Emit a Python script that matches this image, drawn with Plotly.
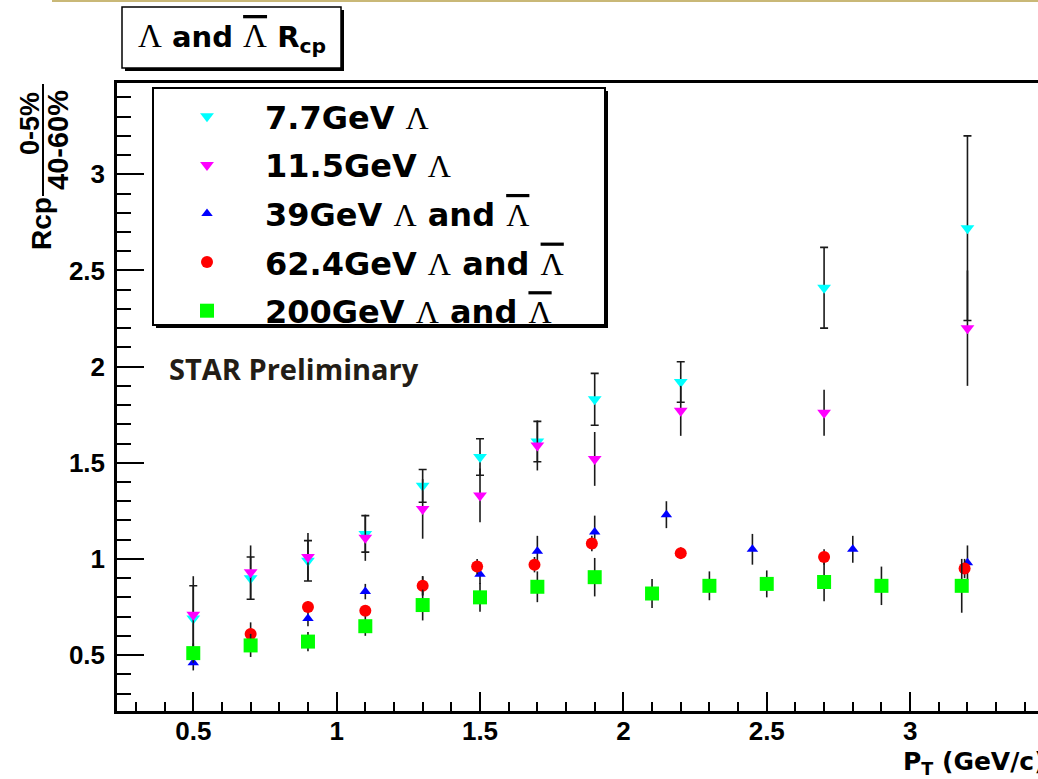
import plotly.graph_objects as go

# ---- data: Lambda (and anti-Lambda) R_cp (0-5% / 40-60%) vs pT ----
pt_7p7 = [0.5, 0.7, 0.9, 1.1, 1.3, 1.5, 1.7, 1.9, 2.2, 2.7, 3.2]
rcp_7p7 = [0.69, 0.90, 0.99, 1.13, 1.38, 1.53, 1.61, 1.83, 1.92, 2.41, 2.72]
err_7p7 = [0.17, 0.11, 0.105, 0.095, 0.085, 0.095, 0.105, 0.135, 0.105, 0.21, 0.48]

pt_11p5 = [0.5, 0.7, 0.9, 1.1, 1.3, 1.5, 1.7, 1.9, 2.2, 2.7, 3.2]
rcp_11p5 = [0.71, 0.93, 1.01, 1.11, 1.26, 1.33, 1.59, 1.52, 1.77, 1.76, 2.20]
err_11p5 = [0.20, 0.14, 0.125, 0.12, 0.155, 0.14, 0.13, 0.14, 0.13, 0.12, 0.30]

pt_39 = [0.5, 0.9, 1.1, 1.3, 1.5, 1.7, 1.9, 2.15, 2.45, 2.8, 3.2]
rcp_39 = [0.46, 0.69, 0.83, 0.86, 0.92, 1.04, 1.14, 1.23, 1.05, 1.05, 0.98]
err_39 = [0.04, 0.04, 0.04, 0.05, 0.05, 0.08, 0.085, 0.07, 0.08, 0.07, 0.09]

pt_62p4 = [0.7, 0.9, 1.1, 1.3, 1.49, 1.69, 1.89, 2.2, 2.7, 3.19]
rcp_62p4 = [0.61, 0.75, 0.73, 0.86, 0.96, 0.97, 1.08, 1.03, 1.01, 0.95]
err_62p4 = [0.06, 0.03, 0.03, 0.05, 0.04, 0.04, 0.04, 0.03, 0.04, 0.05]

pt_200 = [0.5, 0.7, 0.9, 1.1, 1.3, 1.5, 1.7, 1.9, 2.1, 2.3, 2.5, 2.7, 2.9, 3.18]
rcp_200 = [0.51, 0.55, 0.57, 0.65, 0.76, 0.80, 0.855, 0.905, 0.82, 0.86, 0.87, 0.88, 0.86, 0.86]
err_200 = [0.05, 0.06, 0.05, 0.05, 0.08, 0.075, 0.08, 0.10, 0.075, 0.075, 0.07, 0.10, 0.10, 0.14]

# ---- page geometry (pixels) ----
W, H = 1038, 779
ML, MR, MT, MB = 117, 0, 83, 68


def px(x):
    return (x - ML) / (W - ML - MR)


def py(y):
    return (H - MB - y) / (H - MB - MT)


LAM = '<span style="font-family:Liberation Serif;font-weight:normal">Λ</span>'
LAMBAR = ('<span style="font-family:Liberation Serif;font-weight:normal;'
          'text-decoration:overline">Λ</span>')

series = [
    dict(x=pt_7p7, y=rcp_7p7, e=err_7p7, name="7.7GeV " + LAM,
         symbol="triangle-down", color="#00ffff", size=12, cap=4),
    dict(x=pt_11p5, y=rcp_11p5, e=err_11p5, name="11.5GeV " + LAM,
         symbol="triangle-down", color="#ff00ff", size=12, cap=0),
    dict(x=pt_39, y=rcp_39, e=err_39, name="39GeV " + LAM + " and " + LAMBAR,
         symbol="triangle-up", color="#0000ff", size=10, cap=0),
    dict(x=pt_62p4, y=rcp_62p4, e=err_62p4, name="62.4GeV " + LAM + " and " + LAMBAR,
         symbol="circle", color="#ff0000", size=12, cap=0),
    dict(x=pt_200, y=rcp_200, e=err_200, name="200GeV " + LAM + " and " + LAMBAR,
         symbol="square", color="#00ff00", size=14, cap=0),
]

fig = go.Figure()
for i, s in enumerate(series):
    fig.add_trace(go.Scatter(
        x=s["x"], y=s["y"], mode="markers", name=s["name"],
        legendgroup=f"g{i}",
        marker=dict(symbol=s["symbol"], color=s["color"], size=s["size"],
                    line=dict(width=0)),
        error_y=dict(type="data", array=s["e"], visible=True,
                     color="#1a1a1a", thickness=1.6, width=s["cap"]),
    ))

tickfont = dict(family="Liberation Sans", size=26, color="black", weight="bold")

fig.update_layout(
    width=W, height=H,
    margin=dict(l=ML, r=MR, t=MT, b=MB, pad=0),
    paper_bgcolor="white", plot_bgcolor="white",
    showlegend=True,
    legend=dict(
        x=px(149), y=py(89), xanchor="left", yanchor="top",
        bgcolor="rgba(0,0,0,0)", borderwidth=0,
        font=dict(family="DejaVu Sans", size=32, color="black", weight="bold"),
        itemwidth=106, tracegroupgap=4, traceorder="grouped",
    ),
    xaxis=dict(
        range=[0.234, 3.446], showgrid=False, zeroline=False,
        showline=True, linecolor="black", linewidth=2.5, mirror=True,
        ticks="inside", ticklen=19, tickwidth=1.5, tickcolor="black",
        tick0=0, dtick=0.5, tickfont=tickfont, ticklabelstandoff=-5,
        minor=dict(ticks="inside", ticklen=9, tickwidth=1.5, tickcolor="black",
                   dtick=0.1, tick0=0, showgrid=False),
    ),
    yaxis=dict(
        range=[0.209, 3.475], showgrid=False, zeroline=False,
        showline=True, linecolor="black", linewidth=2.5, mirror=False,
        ticks="inside", ticklen=27, tickwidth=1.5, tickcolor="black",
        tick0=0, dtick=0.5, tickfont=tickfont, ticklabelstandoff=4,
        minor=dict(ticks="inside", ticklen=14, tickwidth=1.5, tickcolor="black",
                   dtick=0.1, tick0=0, showgrid=False),
    ),
)

shapes = [
    # slide rule at the very top
    dict(type="line", xref="paper", yref="paper", x0=px(52), x1=px(1038),
         y0=py(1), y1=py(1), line=dict(color="#c9b877", width=2)),
    # title box with drop shadow
    dict(type="rect", xref="paper", yref="paper", x0=px(125), x1=px(344),
         y0=py(10), y1=py(71), fillcolor="black", line=dict(width=0)),
    dict(type="rect", xref="paper", yref="paper", x0=px(122), x1=px(341),
         y0=py(7), y1=py(68), fillcolor="white", line=dict(color="black", width=1.5)),
    # legend box with drop shadow
    dict(type="rect", xref="paper", yref="paper", x0=px(156), x1=px(608),
         y0=py(91), y1=py(328), fillcolor="black", line=dict(width=0), layer="above"),
    dict(type="rect", xref="paper", yref="paper", x0=px(153), x1=px(605),
         y0=py(88), y1=py(325), fillcolor="white", line=dict(color="black", width=2),
         layer="above"),
    # fraction bar of the y-axis title
    dict(type="line", xref="paper", yref="paper", x0=px(43), x1=px(43),
         y0=py(84), y1=py(196), line=dict(color="black", width=2)),
]
fig.update_layout(shapes=shapes)

LAM_T = '<span style="font-family:Liberation Serif;font-weight:normal;font-size:33px">Λ</span>'
LAMBAR_T = ('<span style="font-family:Liberation Serif;font-weight:normal;font-size:33px;'
            'text-decoration:overline">Λ</span>')

annotations = [
    dict(text=LAM_T + " and " + LAMBAR_T + " R<sub>cp</sub>",
         x=px(232), y=py(38), xref="paper", yref="paper",
         xanchor="center", yanchor="middle", showarrow=False,
         font=dict(family="DejaVu Sans", size=29, color="black", weight="bold")),
    dict(text="<b>Rcp</b>", x=px(41), y=py(224), xref="paper", yref="paper",
         textangle=-90, showarrow=False, xanchor="center", yanchor="middle",
         font=dict(family="Liberation Sans", size=28, color="black")),
    dict(text="<b>0-5%</b>", x=px(30), y=py(124), xref="paper", yref="paper",
         textangle=-90, showarrow=False, xanchor="center", yanchor="middle",
         font=dict(family="Liberation Sans", size=27, color="black")),
    dict(text="<b>40-60%</b>", x=px(58), y=py(140), xref="paper", yref="paper",
         textangle=-90, showarrow=False, xanchor="center", yanchor="middle",
         font=dict(family="Liberation Sans", size=29, color="black")),
    dict(text="<b>P<sub>T</sub> (GeV/c)</b>", x=px(901), y=py(763),
         xref="paper", yref="paper", xanchor="left", yanchor="middle",
         showarrow=False,
         font=dict(family="DejaVu Sans", size=25, color="black")),
    dict(text="<b>STAR Preliminary</b>", x=px(294), y=py(368),
         xref="paper", yref="paper", xanchor="center", yanchor="middle",
         showarrow=False,
         font=dict(family="Open Sans", size=29, color="#231d16")),
]
fig.update_layout(annotations=annotations)

fig.write_html("out.html")
